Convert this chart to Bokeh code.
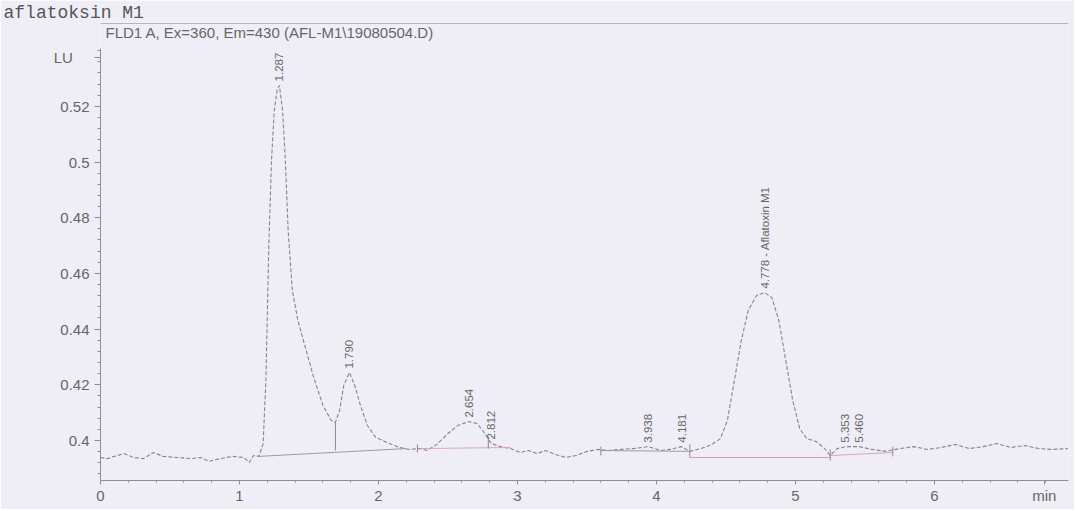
import math
from bokeh.plotting import figure
from bokeh.models import ColumnDataSource, Label, FixedTicker, NumeralTickFormatter, Span
from bokeh.embed import file_html
from bokeh.resources import INLINE
from bokeh.core.properties import value

# ---- data ----
time = [0.00, 0.05, 0.10, 0.17, 0.24, 0.31, 0.38, 0.45, 0.55, 0.65, 0.72, 0.78, 0.86, 0.95,
        1.03, 1.07, 1.10, 1.14, 1.17, 1.19, 1.21, 1.23, 1.25, 1.27, 1.287, 1.31, 1.33, 1.35,
        1.38, 1.42, 1.47, 1.53, 1.60, 1.66, 1.69, 1.72, 1.75, 1.79, 1.83, 1.87, 1.92, 1.98,
        2.06, 2.15, 2.22, 2.30, 2.35, 2.42, 2.50, 2.57, 2.65, 2.71, 2.76, 2.81, 2.88, 2.95,
        3.02, 3.08, 3.14, 3.20, 3.27, 3.35, 3.42, 3.50, 3.58, 3.65, 3.74, 3.83, 3.94, 4.03,
        4.10, 4.18, 4.24, 4.32, 4.40, 4.46, 4.51, 4.56, 4.61, 4.66, 4.72, 4.778, 4.83, 4.88,
        4.93, 4.98, 5.03, 5.08, 5.15, 5.21, 5.25, 5.30, 5.36, 5.46, 5.55, 5.65, 5.75, 5.85,
        5.95, 6.05, 6.15, 6.25, 6.35, 6.45, 6.55, 6.65, 6.75, 6.85, 6.96]
signal = [0.3939, 0.3935, 0.3943, 0.3953, 0.3939, 0.3935, 0.3957, 0.3943, 0.3939, 0.3935,
          0.3939, 0.3925, 0.3935, 0.3943, 0.3939, 0.3921, 0.3946, 0.3943, 0.3989, 0.4215,
          0.4682, 0.5005, 0.5185, 0.5257, 0.5275, 0.5185, 0.5005, 0.4754, 0.4539, 0.4431,
          0.4341, 0.4233, 0.4126, 0.4072, 0.4065, 0.4108, 0.4197, 0.4244, 0.4197, 0.4126,
          0.4054, 0.4011, 0.3993, 0.3975, 0.3968, 0.3971, 0.3964, 0.3986, 0.4025, 0.4054,
          0.4068, 0.4061, 0.4029, 0.3989, 0.3978, 0.3971, 0.3957, 0.3964, 0.3953, 0.3964,
          0.3950, 0.3939, 0.3946, 0.3961, 0.3968, 0.3964, 0.3968, 0.3971, 0.3978, 0.3964,
          0.3968, 0.3978, 0.3961, 0.3971, 0.3986, 0.4007, 0.4072, 0.4215, 0.4359, 0.4467,
          0.4521, 0.4531, 0.4513, 0.4431, 0.4287, 0.4144, 0.4043, 0.4007, 0.3996, 0.3971,
          0.3946, 0.3971, 0.3978, 0.3978, 0.3968, 0.3961, 0.3971, 0.3978, 0.3968, 0.3975,
          0.3986, 0.3971, 0.3978, 0.3989, 0.3975, 0.3982, 0.3971, 0.3968, 0.3971]

peak_times = [1.287, 1.790, 2.654, 2.812, 3.938, 4.181, 4.778, 5.353, 5.460]
peak_heights = [0.5275, 0.4244, 0.4068, 0.3989, 0.3978, 0.3978, 0.4531, 0.3978, 0.3978]
peak_labels = ["1.287", "1.790", "2.654", "2.812", "3.938", "4.181",
               "4.778 - Aflatoxin M1", "5.353", "5.460"]

# integration baselines
base_t0 = [1.14, 2.30, 3.60, 4.24, 5.25]
base_v0 = [0.3943, 0.3971, 0.3964, 0.3939, 0.3946]
base_t1 = [2.20, 2.95, 4.24, 5.25, 5.70]
base_v1 = [0.3971, 0.3975, 0.3961, 0.3939, 0.3957]
base_colors = ["#9c9c9c", "#d8a8b8", "#9c9c9c", "#d99aae", "#d8a8b8"]

# peak start / end / drop-line markers
mark_t = [1.69, 2.28, 2.79, 3.60, 4.24, 5.25, 5.70]
mark_lo = [0.3964, 0.3957, 0.3971, 0.3946, 0.3939, 0.3928, 0.3943]
mark_hi = [0.4065, 0.3986, 0.4014, 0.3978, 0.3986, 0.3968, 0.3978]

y_ticks = [0.40, 0.42, 0.44, 0.46, 0.48, 0.50, 0.52]
y_unit_pos = 0.5375          # where the "LU" unit label sits
x_ticks = [0, 1, 2, 3, 4, 5, 6]
x_unit_pos = 6.79            # where the "min" unit label sits

BG = "#efeef7"
TXT = "#666666"
AX = "#8e8e8e"
FONT = "Liberation Sans"

p = figure(width=1074, height=509, x_range=(0, 6.964), y_range=(0.38564, 0.55009),
           output_backend="svg", toolbar_location=None,
           min_border_left=100, min_border_right=6, min_border_top=22, min_border_bottom=29)
p.background_fill_color = BG
p.border_fill_color = BG
p.outline_line_color = None
p.xgrid.visible = False
p.ygrid.visible = False

# header
p.title.text = "aflatoksin M1"
p.title.text_font = "Liberation Mono"
p.title.text_font_size = "18px"
p.title.text_font_style = "normal"
p.title.text_color = "#555555"
p.title.align = "left"
p.title.offset = -97
p.title.standoff = 0

# axes
p.yaxis.ticker = FixedTicker(ticks=y_ticks + [y_unit_pos],
                             minor_ticks=[round(0.388 + 0.004 * i, 3) for i in range(39)])
p.yaxis.formatter = NumeralTickFormatter(format="0.[00]")
p.yaxis.major_label_overrides = {y_unit_pos: "LU\u00a0\u00a0\u00a0\u00a0"}
p.yaxis.bounds = (0.38564, 0.5408)
p.xaxis.ticker = FixedTicker(ticks=x_ticks + [x_unit_pos],
                             minor_ticks=[round(0.2 * i, 1) for i in range(35)])
p.xaxis.major_label_overrides = {x_unit_pos: "min"}
for ax in (p.xaxis[0], p.yaxis[0]):
    ax.axis_line_color = AX
    ax.major_tick_line_color = AX
    ax.minor_tick_line_color = AX
    ax.major_label_text_color = TXT
    ax.major_label_text_font = FONT
    ax.major_label_text_font_size = "15px"
    ax.major_tick_in = 0
    ax.minor_tick_in = 0
p.yaxis.major_tick_out = 6
p.yaxis.minor_tick_out = 3
p.yaxis.major_label_standoff = 5
p.xaxis.major_tick_out = 4
p.xaxis.minor_tick_out = 2
p.xaxis.major_label_standoff = 2

# header rule
p.add_layout(Span(location=0.54973, dimension="width", line_color="#b5b5b5", line_width=1))

# trace
p.line(time, signal, line_color="#858585", line_width=1.1, line_dash="4 2")

# baselines and markers
p.segment(x0=base_t0, y0=base_v0, x1=base_t1, y1=base_v1, line_color=base_colors, line_width=1)
p.segment(x0=mark_t, y0=mark_lo, x1=mark_t, y1=mark_hi, line_color="#8a8a8a", line_width=1)

# peak labels
src = ColumnDataSource(dict(x=peak_times, y=peak_heights, text=peak_labels))
p.text(x="x", y="y", text="text", source=src, angle=math.pi / 2, text_align="left",
       text_baseline="middle", y_offset=-4, text_color=TXT, text_font=value(FONT),
       text_font_size="11.5px")

# signal title
p.add_layout(Label(x=5, y=448, x_units="screen", y_units="screen",
                   text="FLD1 A, Ex=360, Em=430 (AFL-M1\\19080504.D)",
                   text_font=FONT, text_font_size="15px", text_color=TXT, text_baseline="middle"))

open("out.html", "w").write(file_html(p, INLINE))
